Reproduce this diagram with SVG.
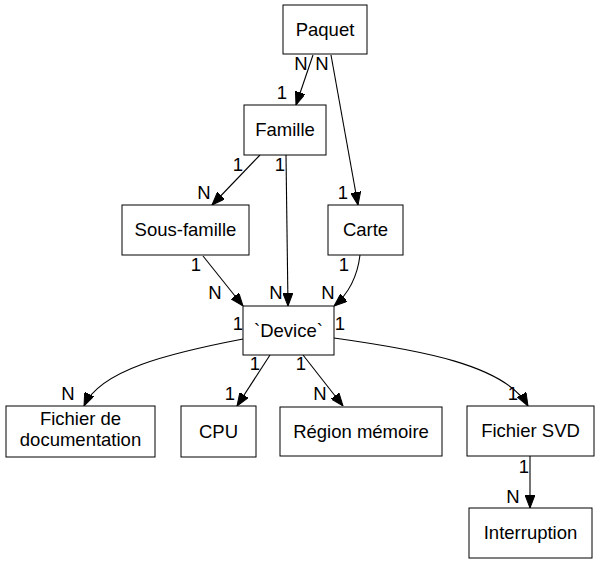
<svg xmlns="http://www.w3.org/2000/svg" width="600" height="564" viewBox="0 0 600 564">
<style>
rect.n{fill:#fff;stroke:#000;stroke-width:1}
text{font-family:"Liberation Sans",Arial,sans-serif;font-size:18.5px;fill:#000}
text.t{text-anchor:middle}
text.l{text-anchor:middle}
path.e{fill:none;stroke:#000;stroke-width:1.1;marker-end:url(#ah)}
</style>
<defs>
<marker id="ah" viewBox="0 0 13 10" refX="13" refY="5" markerWidth="13" markerHeight="10" markerUnits="userSpaceOnUse" orient="auto">
<path d="M0,0 L13,5 L0,10 z" fill="#000" stroke="#000"/>
</marker>
</defs>
<rect width="600" height="564" fill="#fff"/>
<g id="edges">
<path class="e" d="M313,55 L296,105"/>
<path class="e" d="M331,55 L358,205"/>
<path class="e" d="M260,155 L212,205"/>
<path class="e" d="M286,155 L288,306"/>
<path class="e" d="M203,256 L243,306"/>
<path class="e" d="M360,255 C357,280 347,295 334,306"/>
<path class="e" d="M243,339 C170,353 100,370 84,406"/>
<path class="e" d="M270,355 L237,406"/>
<path class="e" d="M303,355 L343,406"/>
<path class="e" d="M334,338 C420,350 505,365 528,406"/>
<path class="e" d="M530,456 L530,508"/>
<text class="l" x="301" y="70">N</text>
<text class="l" x="282" y="99">1</text>
<text class="l" x="322" y="70">N</text>
<text class="l" x="343" y="199">1</text>
<text class="l" x="238" y="171">1</text>
<text class="l" x="204" y="199">N</text>
<text class="l" x="280" y="171">1</text>
<text class="l" x="276" y="299">N</text>
<text class="l" x="196" y="271">1</text>
<text class="l" x="215" y="299">N</text>
<text class="l" x="344" y="271">1</text>
<text class="l" x="328" y="299">N</text>
<text class="l" x="238" y="330">1</text>
<text class="l" x="68" y="400">N</text>
<text class="l" x="255" y="370">1</text>
<text class="l" x="230" y="400">1</text>
<text class="l" x="301" y="370">1</text>
<text class="l" x="320" y="400">N</text>
<text class="l" x="340" y="330">1</text>
<text class="l" x="513" y="400">1</text>
<text class="l" x="524" y="473">1</text>
<text class="l" x="513" y="503">N</text>
</g>
<g id="paquet"><rect class="n" x="283" y="5" width="84" height="49"/><text class="t" x="325" y="36">Paquet</text></g>
<g id="famille"><rect class="n" x="244" y="105" width="82" height="50"/><text class="t" x="285" y="136">Famille</text></g>
<g id="sousfamille"><rect class="n" x="122" y="205" width="127" height="50"/><text class="t" x="185.5" y="236">Sous-famille</text></g>
<g id="carte"><rect class="n" x="328" y="205" width="75" height="50"/><text class="t" x="365.5" y="236">Carte</text></g>
<g id="device"><rect class="n" x="243" y="306" width="91" height="49"/><text class="t" x="288.5" y="337">`Device`</text></g>
<g id="fichierdoc"><rect class="n" x="6" y="406" width="149" height="51"/><text class="t" x="80.5" y="425">Fichier de</text><text class="t" x="80.5" y="446">documentation</text></g>
<g id="cpu"><rect class="n" x="181" y="406" width="75" height="51"/><text class="t" x="218.5" y="438">CPU</text></g>
<g id="region"><rect class="n" x="280" y="407" width="162" height="49"/><text class="t" x="361" y="438">Région mémoire</text></g>
<g id="fichiersvd"><rect class="n" x="467" y="406" width="127" height="50"/><text class="t" x="530.5" y="437">Fichier SVD</text></g>
<g id="interruption"><rect class="n" x="469" y="508" width="123" height="50"/><text class="t" x="530.5" y="539">Interruption</text></g>
</svg>
